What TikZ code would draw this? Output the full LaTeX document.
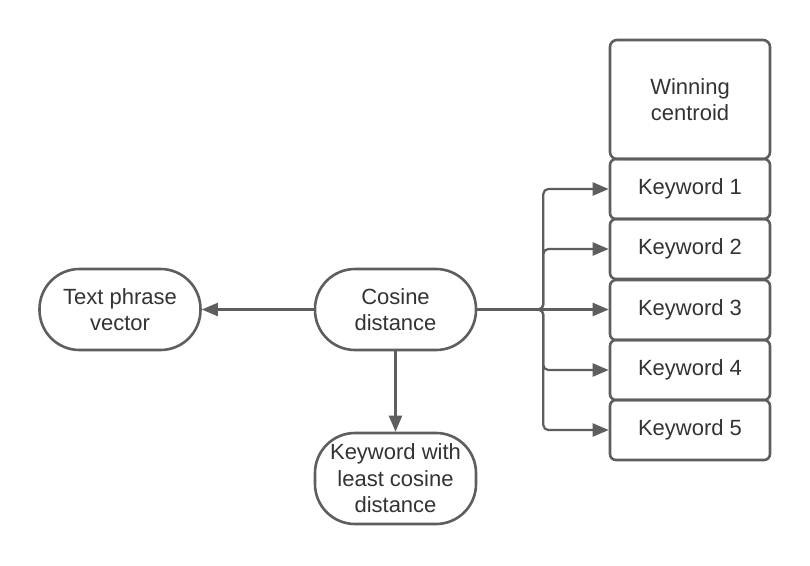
\documentclass[tikz,border=0pt]{standalone}
\usepackage{fontspec}
\setmainfont{Liberation Sans}
\usetikzlibrary{arrows.meta}
\definecolor{lineg}{HTML}{5E5E5E}
\definecolor{txtg}{HTML}{333333}
\begin{document}
\begin{tikzpicture}[x=1pt,y=-1pt,
  box/.style={draw=lineg, line width=2.6pt, text=txtg, align=center, inner sep=0pt,
    font=\fontsize{22}{26.5}\selectfont},
  pill/.style={box, rounded corners=40pt, minimum width=161pt},
  kbox/.style={box, rounded corners=6pt, minimum width=160pt, minimum height=60pt},
  conn/.style={draw=lineg, line width=2.2pt, -{Triangle[length=16pt,width=13pt]}},
  branch/.style={conn, rounded corners=5pt}]
\useasboundingbox[fill=white] (0,0) rectangle (810,565);
\node[box, rounded corners=7pt, minimum width=160pt, minimum height=119pt] (win) at (690,99.5) {Winning\\centroid};
\node[kbox] (k1) at (690,189) {Keyword 1};
\node[kbox] (k2) at (690,249) {Keyword 2};
\node[kbox] (k3) at (690,310) {Keyword 3};
\node[kbox] (k4) at (690,370) {Keyword 4};
\node[kbox] (k5) at (690,430) {Keyword 5};
\node[pill, minimum height=81pt] (tpv) at (120,309.5) {Text phrase\\vector};
\node[pill, minimum height=81pt] (cos) at (395.5,309.5) {Cosine\\distance};
\node[pill, minimum height=91pt] (kw) at (395.5,478.5) {Keyword with\\least cosine\\distance};
\coordinate (br) at ([xshift=66pt]cos.east);
\draw[conn] (cos.west) -- (tpv.east);
\draw[conn] (cos.south) -- (kw.north);
\draw[conn] (cos.east) -- (cos.east -| k3.west);
\draw[branch] (cos.east) -- (br) |- (k1.west);
\draw[branch] (cos.east) -- (br) |- (k2.west);
\draw[branch] (cos.east) -- (br) |- (k4.west);
\draw[branch] (cos.east) -- (br) |- (k5.west);
\end{tikzpicture}
\end{document}
